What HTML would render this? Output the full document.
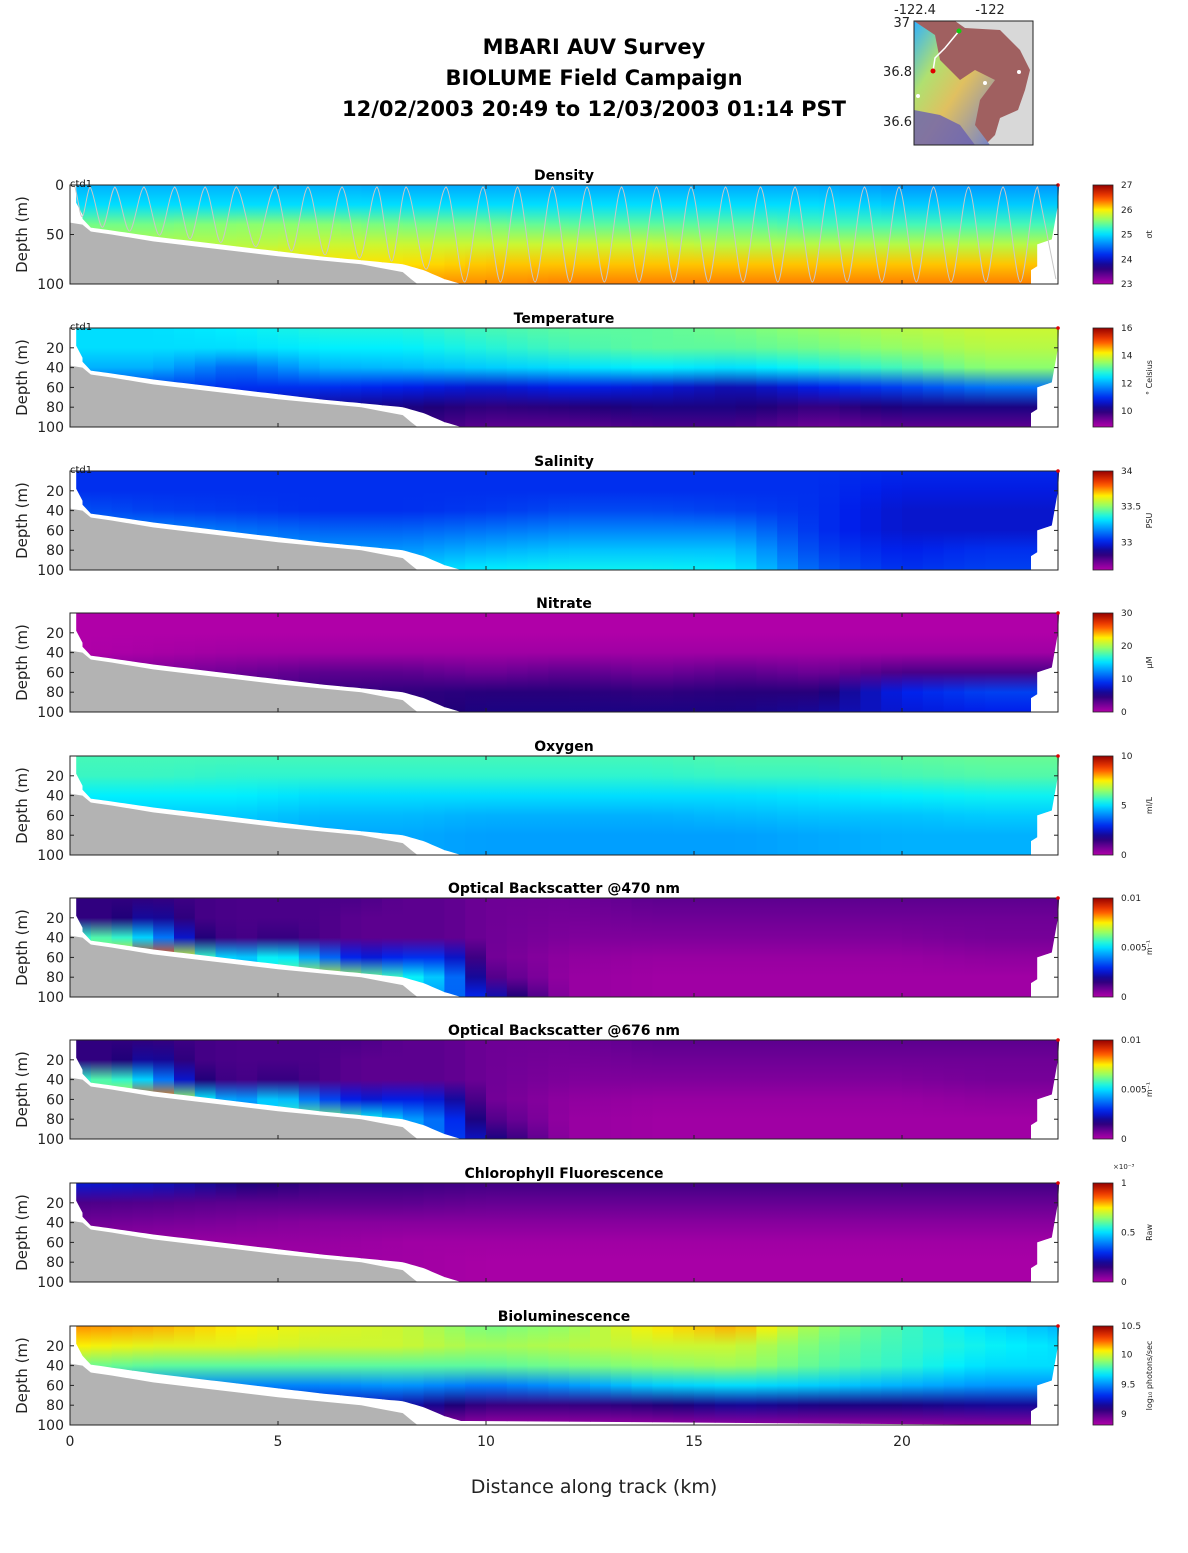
<!DOCTYPE html>
<html><head><meta charset="utf-8">
<style>
html,body{margin:0;padding:0;background:#fff;}
body{width:1188px;height:1548px;overflow:hidden;font-family:"Liberation Sans","DejaVu Sans",sans-serif;}
svg text{font-family:"DejaVu Sans","Liberation Sans",sans-serif;}
</style></head>
<body>
<svg id="chart" width="1188" height="1548" viewBox="0 0 1188 1548" xmlns="http://www.w3.org/2000/svg">
<defs id="defs"></defs>
<g font-weight="bold" font-size="21" text-anchor="middle" fill="#000">
<text x="594" y="54">MBARI AUV Survey</text>
<text x="594" y="85">BIOLUME Field Campaign</text>
<text x="594" y="116">12/02/2003 20:49  to 12/03/2003 01:14 PST</text>
</g>
<g>
<defs>
<linearGradient id="mapg" x1="0" y1="0" x2="1" y2="1">
<stop offset="0" stop-color="#30b0ff"/><stop offset="0.3" stop-color="#b0e070"/><stop offset="0.55" stop-color="#e0c060"/><stop offset="1" stop-color="#7080d0"/>
</linearGradient>
</defs>
<rect x="914" y="21" width="119" height="124" fill="#d8d8d8"/>
<path d="M914,21 L955,21 L965,28 L1000,30 L1020,50 L1030,70 L1025,90 L1018,110 L1000,118 L995,135 L985,145 L914,145Z" fill="#a06060"/>
<path d="M914,21 L935,35 L940,60 L960,80 L975,70 L995,80 L980,100 L975,125 L990,145 L914,145Z" fill="url(#mapg)"/>
<path d="M914,110 L940,115 L960,125 L975,145 L914,145Z" fill="#6a60b0" opacity="0.8"/>
<polyline points="959,31 945,48 935,58 933,71" fill="none" stroke="#fff" stroke-width="1.5"/>
<circle cx="959" cy="31" r="2.5" fill="#10d010"/><circle cx="933" cy="71" r="2.5" fill="#e00000"/>
<circle cx="1019" cy="72" r="2" fill="#fff"/><circle cx="985" cy="83" r="2" fill="#fff"/><circle cx="918" cy="96" r="2" fill="#fff"/>
<rect x="914" y="21" width="119" height="124" fill="none" stroke="#222" stroke-width="1"/>
<g font-size="13" fill="#222">
<text x="915" y="14" text-anchor="middle">-122.4</text><text x="990" y="14" text-anchor="middle">-122</text>
<text x="910" y="27" text-anchor="end">37</text><text x="912" y="76" text-anchor="end">36.8</text><text x="912" y="126" text-anchor="end">36.6</text>
</g>
</g>
<g id="panels"></g>
<g font-size="14" fill="#222" text-anchor="middle" id="xaxis"></g>
<text x="594" y="1493" font-size="19" text-anchor="middle" fill="#222">Distance along track (km)</text>
</svg>
<script>
// ---- data ----
var bathyKm    = [0, 0.3, 0.5, 1, 2, 3, 4, 5, 6, 7, 7.5, 8, 8.2, 8.35];
var bathyDepth = [38, 40, 47, 50, 57, 62, 67, 72, 76, 80, 84, 88, 95, 100];
var dataBottomKm    = [0.3, 0.5, 1, 2, 3, 4, 5, 6, 7, 8, 8.5, 9, 9.4];
var dataBottomDepth = [34, 43, 46, 52, 57, 62, 67, 72, 76, 80, 86, 95, 100];
var depthLevels = [0, 20, 40, 60, 80, 100];
var coarseKm = [0, 2, 4, 6, 8, 10, 12, 14, 16, 18, 20, 22, 24];
var fineKm = [0, 1, 2, 3, 4, 5, 6, 7, 8, 9, 10, 12, 14, 16, 18, 20, 22, 24];
var yoyoPeakKm = [0.48,1.08,1.78,2.52,3.25,4.0,4.93,5.72,6.54,7.38,8.08,9.04,9.93,10.76,11.6,12.43,13.26,14.1,14.93,15.76,16.6,17.43,18.26,19.1,19.93,20.76,21.6,22.43,23.26];
var xTicks = [0, 5, 10, 15, 20];

// normalized colour values (0 = bottom of colour bar, 1 = top), rows = stations, cols = depthLevels
var densityVals = [
 [.45,.5,.62,.68,.75,.8],[.45,.5,.62,.68,.75,.8],[.45,.5,.64,.68,.75,.8],[.45,.5,.64,.7,.76,.8],
 [.44,.5,.62,.7,.76,.82],[.44,.5,.62,.7,.78,.82],[.44,.5,.6,.7,.78,.83],[.44,.5,.6,.7,.78,.83],
 [.44,.5,.6,.68,.78,.83],[.44,.5,.58,.68,.78,.83],[.42,.48,.58,.68,.78,.83],[.42,.48,.58,.68,.78,.83],[.42,.48,.58,.68,.78,.83]];
var tempVals = [
 [.5,.5,.45,.32,.25,.2],[.5,.5,.45,.32,.25,.2],[.52,.5,.36,.3,.25,.2],[.55,.52,.45,.3,.2,.15],
 [.55,.52,.46,.28,.18,.15],[.58,.55,.48,.25,.15,.1],[.6,.58,.5,.28,.16,.1],[.6,.6,.52,.26,.18,.12],
 [.62,.6,.5,.22,.18,.12],[.65,.62,.54,.28,.14,.08],[.68,.65,.58,.32,.18,.1],[.7,.68,.64,.38,.18,.1],[.7,.68,.64,.38,.18,.1]];
var salVals = [
 [.3,.3,.34,.38,.4,.4],[.3,.3,.32,.4,.42,.42],[.3,.3,.31,.38,.42,.45],[.3,.3,.3,.36,.42,.46],
 [.3,.3,.3,.36,.42,.48],[.3,.3,.31,.38,.45,.52],[.3,.3,.33,.4,.47,.53],[.3,.3,.33,.4,.47,.53],
 [.3,.3,.32,.4,.47,.52],[.3,.3,.3,.3,.32,.35],[.29,.27,.25,.25,.28,.3],[.29,.27,.25,.25,.3,.32],[.29,.27,.25,.25,.3,.32]];
var nitrateVals = [
 [0,0,0,.06,.1,.1],[0,0,.01,.06,.1,.1],[0,0,.02,.08,.12,.12],[0,0,.02,.1,.14,.14],
 [0,0,.02,.1,.15,.15],[0,0,.02,.08,.16,.18],[0,0,.02,.1,.16,.18],[0,0,.02,.08,.15,.18],
 [0,0,.02,.1,.16,.18],[0,0,.02,.08,.16,.2],[0,0,.02,.12,.28,.26],[0,0,.02,.12,.32,.28],[0,0,.02,.12,.32,.28]];
var oxyVals = [
 [.58,.57,.52,.48,.46,.46],[.58,.57,.52,.48,.46,.46],[.58,.56,.52,.48,.46,.46],[.58,.56,.5,.46,.44,.44],
 [.58,.56,.5,.46,.44,.44],[.58,.56,.5,.45,.43,.43],[.58,.56,.5,.45,.43,.43],[.58,.56,.5,.45,.43,.43],
 [.59,.57,.5,.46,.43,.43],[.59,.57,.51,.47,.44,.44],[.6,.58,.52,.47,.45,.45],[.61,.59,.53,.48,.45,.45],[.61,.59,.53,.48,.45,.45]];
var ob470Vals = [
 [.15,.15,.55,.55,.5,.5],[.15,.15,.6,.7,.7,.7],[.15,.22,.45,.95,.9,.9],[.13,.13,.18,.6,.6,.6],
 [.12,.12,.12,.45,.4,.4],[.12,.12,.15,.55,.6,.6],[.12,.12,.12,.4,.72,.7],[.12,.1,.1,.25,.62,.6],
 [.1,.1,.1,.3,.55,.5],[.1,.1,.1,.3,.45,.4],[.08,.08,.08,.08,.12,.25],[.08,.07,.06,.04,.03,.03],
 [.1,.08,.06,.03,.02,.02],[.1,.08,.06,.03,.02,.02],[.1,.08,.06,.03,.02,.02],[.1,.08,.06,.03,.02,.02],[.1,.08,.07,.04,.02,.02],[.1,.08,.07,.04,.02,.02]];
var ob676Vals = [
 [.15,.15,.55,.55,.5,.5],[.15,.15,.6,.65,.65,.65],[.15,.22,.45,.92,.85,.85],[.13,.13,.18,.55,.55,.55],
 [.12,.12,.12,.4,.35,.35],[.12,.12,.15,.5,.55,.55],[.12,.12,.12,.35,.65,.6],[.12,.1,.1,.25,.55,.55],
 [.1,.1,.1,.28,.45,.45],[.1,.1,.1,.25,.35,.35],[.08,.08,.08,.08,.12,.2],[.08,.07,.06,.04,.03,.03],
 [.1,.08,.06,.03,.02,.02],[.1,.08,.06,.03,.02,.02],[.1,.08,.06,.03,.02,.02],[.1,.08,.06,.03,.02,.02],[.1,.08,.07,.04,.02,.02],[.1,.08,.07,.04,.02,.02]];
var chlVals = [
 [.26,.12,.08,.04,.02,.02],[.24,.11,.07,.03,.02,.02],[.18,.1,.06,.03,.02,.02],[.14,.1,.05,.03,.02,.02],
 [.14,.1,.05,.02,.02,.02],[.13,.09,.05,.02,.01,.01],[.13,.09,.05,.02,.01,.01],[.13,.09,.05,.02,.01,.01],
 [.13,.09,.05,.02,.01,.01],[.13,.09,.05,.02,.01,.01],[.13,.09,.05,.02,.01,.01],[.13,.09,.05,.02,.01,.01],[.13,.09,.05,.02,.01,.01]];
var bioVals = [
 [.82,.75,.62,.42,.3,.2],[.8,.72,.6,.4,.28,.18],[.75,.72,.6,.4,.25,.15],[.72,.7,.6,.4,.25,.12],
 [.7,.7,.6,.42,.22,.08],[.62,.66,.6,.38,.14,.03],[.65,.68,.62,.42,.14,.03],[.75,.7,.64,.48,.16,.03],
 [.8,.7,.66,.5,.2,.04],[.65,.62,.6,.48,.18,.04],[.58,.57,.56,.45,.18,.04],[.5,.53,.5,.42,.2,.05],[.45,.5,.5,.42,.2,.05]];

var panelTitles = ["Density","Temperature","Salinity","Nitrate","Oxygen","Optical Backscatter @470 nm","Optical Backscatter @676 nm","Chlorophyll Fluorescence","Bioluminescence"];
var cbTickLabels = [["27","26","25","24","23"],["16","14","12","10"],["34","33.5","33"],["30","20","10","0"],["10","5","0"],["0.01","0.005","0"],["0.01","0.005","0"],["1","0.5","0"],["10.5","10","9.5","9"]];
var cbUnits = ["σt","° Celsius","PSU","μM","ml/L","m⁻¹","m⁻¹","Raw","log₁₀ photons/sec"];

(function(){
var panelVals = [densityVals,tempVals,salVals,nitrateVals,oxyVals,ob470Vals,ob676Vals,chlVals,bioVals];
var panelKm = [coarseKm,coarseKm,coarseKm,coarseKm,coarseKm,fineKm,fineKm,coarseKm,coarseKm];
var cbTickFrac = [[1,.75,.5,.25,0],[1,.72,.44,.16],[1,.64,.28],[1,.667,.333,0],[1,.5,0],[1,.5,0],[1,.5,0],[1,.5,0],[1,.71,.41,.11]];
var X0=70, PXKM=41.6, XR=1058, PH=99;
var panelTop=[185,328,471,613,756,898,1040,1183,1326];
function xs(km){return X0+km*PXKM;}
function ys(t0,d){return t0+d*PH/100;}
var cmapStops=[[0,[176,0,168]],[0.08,[110,0,150]],[0.17,[30,0,120]],[0.28,[0,30,235]],[0.42,[0,150,255]],[0.52,[0,240,255]],[0.64,[140,255,110]],[0.75,[255,240,0]],[0.87,[255,70,0]],[1,[150,0,0]]];
function cmap(v){v=Math.max(0,Math.min(1,v));for(var i=1;i<cmapStops.length;i++){if(v<=cmapStops[i][0]){var a=cmapStops[i-1],b=cmapStops[i],t=(v-a[0])/(b[0]-a[0]);var c=a[1].map(function(q,j){return Math.round(q+(b[1][j]-q)*t);});return "rgb("+c.join(",")+")";}}return "rgb(150,0,0)";}
function interp(xa,ya,x,dflt){if(x>=xa[xa.length-1])return dflt;if(x<=xa[0])return ya[0];for(var i=1;i<xa.length;i++){if(x<=xa[i]){var t=(x-xa[i-1])/(xa[i]-xa[i-1]);return ya[i-1]+t*(ya[i]-ya[i-1]);}}return dflt;}
function bathyAt(km){return interp(bathyKm,bathyDepth,km,100);}
function dataBotAt(km){return interp(dataBottomKm,dataBottomDepth,km,100);}
var NS="http://www.w3.org/2000/svg";
function mk(tag,attrs,parent){var e=document.createElementNS(NS,tag);for(var k in attrs)e.setAttribute(k,attrs[k]);if(parent)parent.appendChild(e);return e;}
var defs=document.getElementById('defs');
var root=document.getElementById('panels');

var cbg=mk('linearGradient',{id:'cbgrad',x1:0,y1:1,x2:0,y2:0},defs);
for(var s=0;s<=20;s++){mk('stop',{offset:s/20,'stop-color':cmap(s/20)},cbg);}

for(var p=0;p<9;p++){
  var pt=panelTop[p], vals=panelVals[p], kms=panelKm[p];
  var g=mk('g',{},root);
  
  
  var extra = (p===8)?4:0;
  var cp=mk('clipPath',{id:'clip'+p},defs);
  var pts=[[xs(0.15),pt]];
  pts.push([xs(23.78),pt]);pts.push([xs(23.75),ys(pt,20)]);pts.push([xs(23.6),ys(pt,55)]);pts.push([xs(23.25),ys(pt,60)]);pts.push([xs(23.25),ys(pt,82)]);pts.push([xs(23.1),ys(pt,86)]);pts.push([xs(23.1),ys(pt,100)]);
  for(var kk=9.6;kk>=0.3;kk-=0.1){pts.push([xs(kk),ys(pt,Math.min(100,dataBotAt(kk)-extra))]);}
  pts.push([xs(0.3),ys(pt,30)]);pts.push([xs(0.15),ys(pt,18)]);
  mk('polygon',{points:pts.map(function(q){return q[0].toFixed(1)+','+q[1].toFixed(1);}).join(' ')},cp);
  var dg=mk('g',{'clip-path':'url(#clip'+p+')'},g);
  
  
  for(var i=0;i<kms.length-1;i++){
    var nsub=Math.max(1,Math.round((kms[i+1]-kms[i])/0.5));
    for(var j=0;j<nsub;j++){
      var t=(j+0.5)/nsub, k0=kms[i]+(kms[i+1]-kms[i])*j/nsub, k1=kms[i]+(kms[i+1]-kms[i])*(j+1)/nsub;
      var gid='g'+p+'_'+i+'_'+j;
      var lg=mk('linearGradient',{id:gid,x1:0,y1:0,x2:0,y2:1},defs);
      for(var d=0;d<depthLevels.length;d++){
        var v=vals[i][d]+(vals[i+1][d]-vals[i][d])*t;
        mk('stop',{offset:depthLevels[d]/100,'stop-color':cmap(v)},lg);
      }
      var r=mk('rect',{x:xs(k0).toFixed(1),y:pt,width:(xs(k1)-xs(k0)+0.6).toFixed(1),height:PH,fill:'url(#'+gid+')'},dg);
      
      
    }
  }
  var bp=[[X0,ys(pt,100)]];
  bathyKm.forEach(function(k,ii){bp.push([xs(k),ys(pt,bathyDepth[ii])]);});
  bp.push([xs(bathyKm[bathyKm.length-1]),ys(pt,100)]);
  var bpoly=mk('polygon',{points:bp.map(function(q){return q[0].toFixed(1)+','+q[1].toFixed(1);}).join(' '),fill:'#b3b3b3'},g);
  
  
  if(p===0){
    var dstr='M'+xs(0.1).toFixed(1)+','+ys(pt,0);
    var prevK=0.1, prevD=0;
    for(var q=0;q<yoyoPeakKm.length;q++){
      var pk=yoyoPeakKm[q];
      var troughK=(prevK+pk)/2, troughD=Math.min(99,dataBotAt(troughK)-2);
      var hw=(pk-prevK)/2;
      dstr+=' C'+xs(prevK+hw*0.35).toFixed(1)+','+ys(pt,prevD+5)+' '+xs(troughK-hw*0.3).toFixed(1)+','+ys(pt,troughD).toFixed(1)+' '+xs(troughK).toFixed(1)+','+ys(pt,troughD).toFixed(1);
      dstr+=' C'+xs(troughK+hw*0.3).toFixed(1)+','+ys(pt,troughD).toFixed(1)+' '+xs(pk-hw*0.35).toFixed(1)+','+ys(pt,5)+' '+xs(pk).toFixed(1)+','+ys(pt,2);
      prevK=pk; prevD=2;
    }
    dstr+=' L'+xs(23.7).toFixed(1)+','+ys(pt,95);
    var trk=mk('path',{d:dstr,fill:'none',stroke:'#c8c8c8','stroke-width':1},g);
    
    
  }
  var fr=mk('rect',{x:X0,y:pt,width:XR-X0,height:PH,fill:'none',stroke:'#222','stroke-width':1},g);
  
  
  var dot=mk('circle',{cx:XR,cy:pt,r:1.8,fill:'#e00000'},g);
  
  
  xTicks.forEach(function(k){mk('line',{x1:xs(k),x2:xs(k),y1:pt,y2:pt+4,stroke:'#222'},g);mk('line',{x1:xs(k),x2:xs(k),y1:pt+PH,y2:pt+PH-4,stroke:'#222'},g);});
  var yt=(p===0)?[0,50,100]:[20,40,60,80,100];
  yt.forEach(function(dd){
    var yy2=ys(pt,dd);
    mk('line',{x1:X0,x2:X0+4,y1:yy2,y2:yy2,stroke:'#222'},g);
    mk('line',{x1:XR,x2:XR-4,y1:yy2,y2:yy2,stroke:'#222'},g);
    var tl=mk('text',{x:X0-6,y:yy2+5,'font-size':14,'text-anchor':'end',fill:'#222'},g);
    tl.textContent=dd;
    
    
  });
  var yl=mk('text',{x:27,y:pt+PH/2,'font-size':15,'text-anchor':'middle',fill:'#222',transform:'rotate(-90 27 '+(pt+PH/2)+')'},g);
  yl.textContent='Depth (m)';
  
  
  var tt=mk('text',{x:564,y:pt-5,'font-size':14,'font-weight':'bold','text-anchor':'middle',fill:'#000'},g);
  tt.textContent=panelTitles[p];
  
  
  if(p<3){var ct=mk('text',{x:X0,y:pt+2,'font-size':10,fill:'#111'},g);ct.textContent='ctd1';
    
    }
  var cb=mk('g',{},g);
  
  
  mk('rect',{x:1093,y:pt,width:20,height:PH,fill:'url(#cbgrad)',stroke:'#222','stroke-width':0.8},cb);
  cbTickLabels[p].forEach(function(lab,ii){
    var yy3=pt+PH*(1-cbTickFrac[p][ii]);
    var ctl=mk('text',{x:1121,y:yy3+3,'font-size':9,fill:'#222'},cb);
    ctl.textContent=lab;
    
    
  });
  var ux=1152, uy=pt+PH/2;
  var ul=mk('text',{x:ux,y:uy,'font-size':8,'text-anchor':'middle',fill:'#222',transform:'rotate(-90 '+ux+' '+uy+')'},cb);
  ul.textContent=cbUnits[p];
  
  
  if(p===7){var ex=mk('text',{x:1113,y:pt-14,'font-size':7,fill:'#222'},cb);ex.textContent='×10⁻³';
    
    }
}
var xa=document.getElementById('xaxis');
xTicks.forEach(function(k){
  var tx=mk('text',{x:xs(k),y:1446},xa);
  tx.textContent=k;
  
  
});
})();
</script>
</body></html>
